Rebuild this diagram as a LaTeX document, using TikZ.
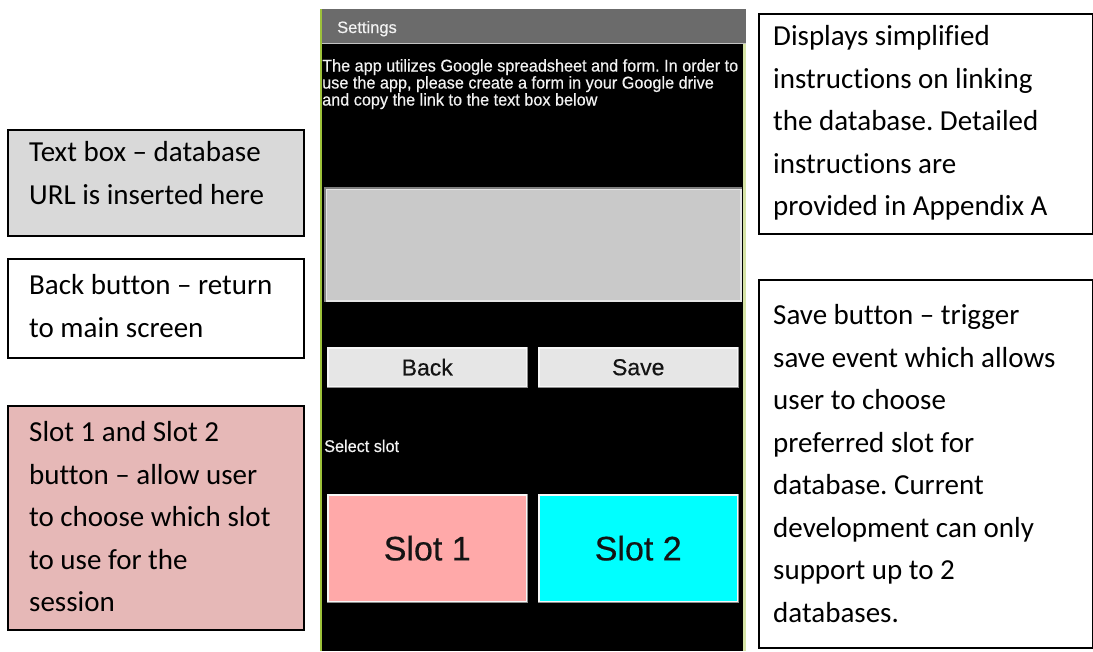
\documentclass[tikz,border=0pt]{standalone}
\usepackage{fontspec}
\setmainfont[Ligatures=NoCommon]{Carlito}
\newfontfamily\uifont[FakeBold=0.5]{Liberation Sans}
\newfontfamily\uinarrow[FakeBold=0.5, FakeStretch=0.955]{Liberation Sans}
\definecolor{titlegrey}{HTML}{6B6B6B}
\definecolor{titleline}{HTML}{C4C4C4}
\definecolor{leftrim}{HTML}{9DC23A}
\definecolor{rightrim}{HTML}{D6E3A6}
\definecolor{fieldgrey}{HTML}{C9C9C9}
\definecolor{btngrey}{HTML}{E6E6E6}
\definecolor{slotpink}{HTML}{FFA9A9}
\definecolor{slotcyan}{HTML}{00FFFF}
\definecolor{noteblue}{HTML}{D9D9D9}
\definecolor{notepink}{HTML}{E6B8B7}
\tikzset{
  note/.style={draw=black, line width=1.5pt, rectangle, inner sep=0pt, anchor=north west},
  notetext/.style={inner sep=0pt, anchor=north west, align=left,
    font=\fontsize{29}{42.5}\selectfont},
  uibtn/.style={rectangle, inner sep=0pt, anchor=north west, draw=white!97!black,
    line width=1.5pt, text=black!92},
  shade/.style={draw=black!45, line width=1.5pt},
  uilabel/.style={inner sep=0pt, anchor=base west, text=white!95!black},
}
\frenchspacing
\begin{document}
\begin{tikzpicture}[x=1pt, y=-1pt]
\useasboundingbox (0,0) rectangle (1093,651);

% ---- phone screen ----
\fill[black] (320,44) rectangle (745,651);
\fill[titlegrey] (320,9) rectangle (746,43);
\draw[titleline, line width=1.5pt] (320,43.5) -- (746,43.5);
\draw[leftrim, line width=2.5pt] (321.2,9) -- (321.2,651);
\draw[rightrim, line width=2.5pt] (744.6,44) -- (744.6,651);

\node[uilabel, font=\uifont\fontsize{16.5}{17}\selectfont] (title) at (337,33) {Settings};
\node[uilabel, anchor=north west, align=left, font=\uinarrow\fontsize{17}{17}\selectfont]
  (intro) at (322,59) {The app utilizes Google spreadsheet and form. In order to\\
  use the app, please create a form in your Google drive\\
  and copy the link to the text box below};

% URL text field (sunken)
\node[rectangle, inner sep=0pt, anchor=north west, fill=fieldgrey, draw=white!90!black,
  line width=1.5pt, minimum width=415pt, minimum height=112pt] (field) at (325,188) {};
\draw[draw=black!50, line width=1.5pt] (field.south west) -- (field.north west) -- (field.north east);

% Back / Save buttons (raised)
\node[uibtn, fill=btngrey, minimum width=199pt, minimum height=39pt,
  font=\uifont\fontsize{23}{26}\selectfont] (back) at (327,347) {Back};
\draw[shade] (back.north east) -- (back.south east) -- (back.south west);
\node[uibtn, fill=btngrey, minimum width=199pt, minimum height=39pt,
  font=\uifont\fontsize{23}{26}\selectfont] (save) at (538,347) {Save};
\draw[shade] (save.north east) -- (save.south east) -- (save.south west);

\node[uilabel, font=\uinarrow\fontsize{17}{17}\selectfont] (select) at (324,452) {Select slot};

% Slot buttons
\node[uibtn, fill=slotpink, minimum width=199pt, minimum height=107pt,
  font=\uifont\fontsize{34}{38}\selectfont] (slot1) at (327,494) {Slot 1};
\draw[shade] (slot1.north east) -- (slot1.south east) -- (slot1.south west);
\node[uibtn, fill=slotcyan, minimum width=199pt, minimum height=107pt,
  font=\uifont\fontsize{34}{38}\selectfont] (slot2) at (538,494) {Slot 2};
\draw[shade] (slot2.north east) -- (slot2.south east) -- (slot2.south west);

% ---- annotation boxes, left ----
\node[note, fill=noteblue, minimum width=296pt, minimum height=106pt] (n1) at (7,129) {};
\node[notetext, xshift=22pt, yshift=-12.5pt] (n1t) at (n1.north west)
  {Text box -- database\\URL is inserted here};

\node[note, fill=white, minimum width=296pt, minimum height=99pt] (n2) at (7,258) {};
\node[notetext, xshift=22pt, yshift=-16.5pt] (n2t) at (n2.north west)
  {Back button -- return\\to main screen};

\node[note, fill=notepink, minimum width=296pt, minimum height=224pt] (n3) at (7,405) {};
\node[notetext, xshift=22pt, yshift=-16.5pt] (n3t) at (n3.north west)
  {Slot 1 and Slot 2\\button -- allow user\\to choose which slot\\to use for the\\session};

% ---- annotation boxes, right ----
\node[note, fill=white, minimum width=334pt, minimum height=220pt] (n4) at (758,13) {};
\node[notetext, xshift=15pt, yshift=-12.5pt] (n4t) at (n4.north west)
  {Displays simplified\\instructions on linking\\the database. Detailed\\instructions are\\provided in Appendix A};

\node[note, fill=white, minimum width=334pt, minimum height=368pt] (n5) at (758,279) {};
\node[notetext, xshift=15pt, yshift=-25.5pt] (n5t) at (n5.north west)
  {Save button -- trigger\\save event which allows\\user to choose\\preferred slot for\\database. Current\\development can only\\support up to 2\\databases.};
\end{tikzpicture}
\end{document}
